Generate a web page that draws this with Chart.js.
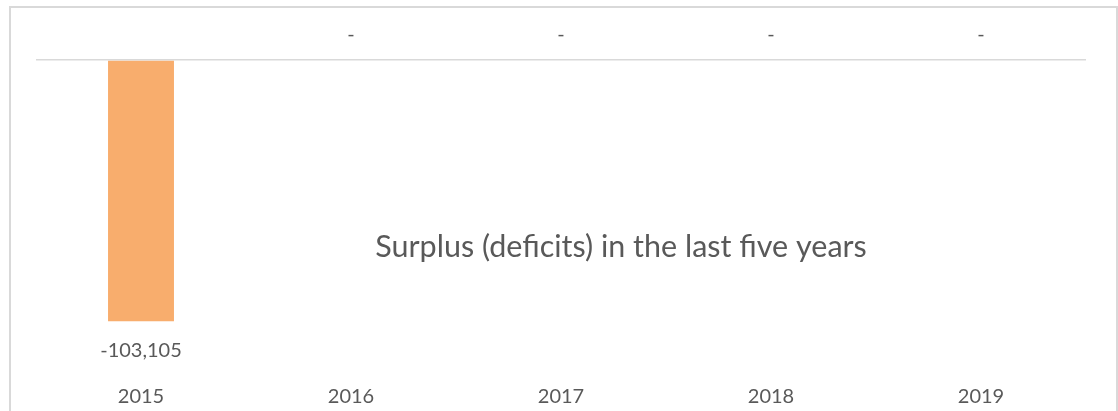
<!DOCTYPE html>
<html lang="en">
<head>
    <meta charset="UTF-8">
    <title>Surplus (deficits) in the last five years</title>
    <script src="https://cdn.jsdelivr.net/npm/chart.js"></script>
    <style>
        html, body { margin: 0; padding: 0; background: #fff; overflow: hidden; }
        #wrap { position: relative; width: 1118px; height: 411px; }
        #frame {
            position: absolute; left: 9px; top: 6px; width: 1109px; height: 500px;
            box-sizing: border-box; border: 2px solid #d9d9d9; pointer-events: none;
        }
    </style>
</head>
<body>
    <div id="wrap">
        <canvas id="surplusChart" width="1118" height="411"></canvas>
        <div id="frame"></div>
    </div>

    <script>
        const years = ['2015', '2016', '2017', '2018', '2019'];
        const surplus = [-103105, 0, 0, 0, 0];
        const yMin = -127500;
        const yMax = 0;

        const textColor = '#595959';
        const fontFamily = 'Lato, "Open Sans", sans-serif';

        // Excel-style accounting labels: zero shows as a dash
        const fmt = v => v === 0 ? '-' : v.toLocaleString('en-US');

        const valueLabels = {
            id: 'valueLabels',
            afterDatasetsDraw(chart) {
                const ctx = chart.ctx;
                const meta = chart.getDatasetMeta(0);
                ctx.save();
                ctx.fillStyle = textColor;
                ctx.font = '20px ' + fontFamily;
                ctx.textAlign = 'center';
                ctx.textBaseline = 'middle';
                meta.data.forEach((bar, i) => {
                    const v = surplus[i];
                    const y = v < 0 ? bar.y + 29 : bar.y - 25;
                    ctx.fillText(fmt(v), bar.x, y);
                });
                ctx.restore();
            }
        };

        const centerTitle = {
            id: 'centerTitle',
            afterDraw(chart) {
                const ctx = chart.ctx;
                const area = chart.chartArea;
                ctx.save();
                ctx.fillStyle = textColor;
                ctx.font = '30.5px ' + fontFamily;
                ctx.textAlign = 'center';
                ctx.textBaseline = 'middle';
                ctx.fillText('Surplus (deficits) in the last five years', area.left + 585, area.top + 187);
                ctx.restore();
            }
        };

        const ctx = document.getElementById('surplusChart').getContext('2d');
        new Chart(ctx, {
            type: 'bar',
            data: {
                labels: years,
                datasets: [{
                    data: surplus,
                    backgroundColor: '#F8AD6D',
                    barPercentage: 0.314,
                    categoryPercentage: 1
                }]
            },
            options: {
                responsive: false,
                animation: false,
                layout: { padding: { top: 60, left: 36, right: 32, bottom: 0 } },
                plugins: { legend: { display: false }, tooltip: { enabled: false } },
                scales: {
                    x: {
                        grid: { display: false, drawTicks: false },
                        border: { display: false },
                        ticks: { color: textColor, font: { family: fontFamily, size: 20 }, padding: 2 }
                    },
                    y: {
                        min: yMin,
                        max: yMax,
                        afterFit: scale => { scale.width = 0; },
                        ticks: { display: false, stepSize: 25500 },
                        border: { display: false },
                        grid: {
                            drawTicks: false,
                            lineWidth: 1.5,
                            color: c => c.tick && c.tick.value === 0 ? '#d9d9d9' : 'transparent'
                        }
                    }
                }
            },
            plugins: [valueLabels, centerTitle]
        });
    </script>
</body>
</html>
